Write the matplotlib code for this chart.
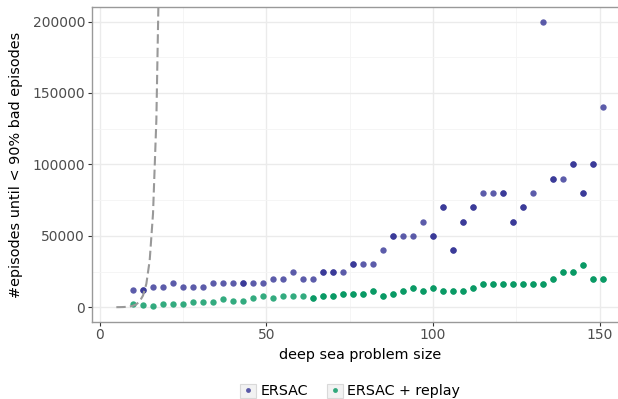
import matplotlib
matplotlib.use("Agg")
import matplotlib.pyplot as plt
from matplotlib.lines import Line2D
from matplotlib.patches import Rectangle
import numpy as np

# problem sizes (same grid for both agents)
sizes = list(range(10, 152, 3))

ersac = [12000, 12000, 14000, 14000, 17000, 14000, 14000, 14000, 17000, 17000,
         17000, 17000, 17000, 17000, 20000, 20000, 25000, 20000, 20000, 25000,
         25000, 25000, 30000, 30000, 30000, 40000, 50000, 50000, 50000, 60000,
         50000, 70000, 40000, 60000, 70000, 80000, 80000, 80000, 60000, 70000,
         80000, 200000, 90000, 90000, 100000, 80000, 100000, 140000]
# number of overlapping seeds at each point (darker dots)
ersac_runs = [1, 2, 1, 1, 1, 1, 1, 1, 1, 1,
              1, 2, 1, 1, 1, 1, 1, 1, 1, 2,
              2, 1, 2, 1, 1, 1, 2, 1, 1, 1,
              2, 2, 2, 2, 2, 1, 1, 2, 2, 2,
              1, 1, 2, 1, 2, 2, 2, 1]

replay = [2200, 1600, 1200, 2100, 2600, 2600, 3500, 3500, 3500, 5600,
          4400, 4400, 6800, 7700, 6800, 7700, 7700, 7700, 6800, 7700,
          7700, 9600, 9600, 9600, 11700, 7700, 9600, 11700, 13600, 11700,
          13600, 11700, 11700, 11700, 13600, 16600, 16600, 16600, 16600, 16600,
          16600, 16600, 19700, 24600, 24600, 29700, 19700, 19700]
replay_runs = [1] * 18 + [2] * 30

# reference curve
ref_x = [5, 6, 7, 8, 9, 10, 11, 12, 13, 14, 15, 16, 17, 18]
ref_y = [32, 64, 128, 256, 512, 1024, 2048, 4096, 8192, 16384, 32768,
         65536, 131072, 262144]

col_ersac = "#333395"
col_replay = "#00965f"
alpha = 0.8

plt.rcParams["font.family"] = "DejaVu Sans"

fig = plt.figure(figsize=(6.18, 3.99), dpi=100)
ax = fig.add_axes([92 / 618, 77.5 / 399, 535.5 / 618, 314.2 / 399])

ax.plot(ref_x, ref_y, color="#999999", linewidth=1.5, dashes=(4.5, 2), zorder=3)


def draw(xs, ys, runs, color):
    xs, ys, runs = np.array(xs), np.array(ys), np.array(runs)
    for k in range(runs.max()):
        m = runs > k
        ax.scatter(xs[m], ys[m], s=21, color=color, alpha=alpha,
                   linewidths=0, zorder=2)


draw(sizes, ersac, ersac_runs, col_ersac)
draw(sizes, replay, replay_runs, col_replay)

ax.set_xlim(-2.3, 158.3)
ax.set_ylim(-10000, 210000)
ax.set_xticks([0, 50, 100, 150])
ax.set_xticks([25, 75, 125], minor=True)
ax.set_yticks([0, 50000, 100000, 150000, 200000])
ax.set_yticks([25000, 75000, 125000, 175000], minor=True)
ax.grid(which="major", color="#ebebeb", linewidth=1.0)
ax.grid(which="minor", color="#f4f4f4", linewidth=0.6)
ax.set_axisbelow(True)

for sp in ax.spines.values():
    sp.set_color("#999999")
    sp.set_linewidth(1.0)
ax.tick_params(which="major", length=3, width=0.8, color="#333333",
               labelsize=10, labelcolor="#4d4d4d", pad=2)
ax.tick_params(which="minor", length=0)

ax.set_xlabel("deep sea problem size", fontsize=10.4, labelpad=4)
ax.set_ylabel("#episodes until < 90% bad episodes", fontsize=10.4, labelpad=7)

# legend with grey key boxes
key = dict(facecolor="#f2f2f2", edgecolor="#d9d9d9", linewidth=0.8)
h1 = (Rectangle((0, 0), 1, 1, **key),
      Line2D([], [], marker="o", linestyle="none", markersize=3.5,
             color=col_ersac, alpha=alpha, markeredgewidth=0))
h2 = (Rectangle((0, 0), 1, 1, **key),
      Line2D([], [], marker="o", linestyle="none", markersize=3.5,
             color=col_replay, alpha=alpha, markeredgewidth=0))
fig.legend([h1, h2], ["ERSAC", "ERSAC + replay"], loc="center",
           bbox_to_anchor=(350 / 618, 1 - 391 / 399), ncol=2, frameon=False,
           fontsize=10.3, handlelength=1.15, handleheight=1.15,
           handletextpad=0.3, columnspacing=1.3, borderpad=0)

fig.savefig("out.png", dpi=100)
